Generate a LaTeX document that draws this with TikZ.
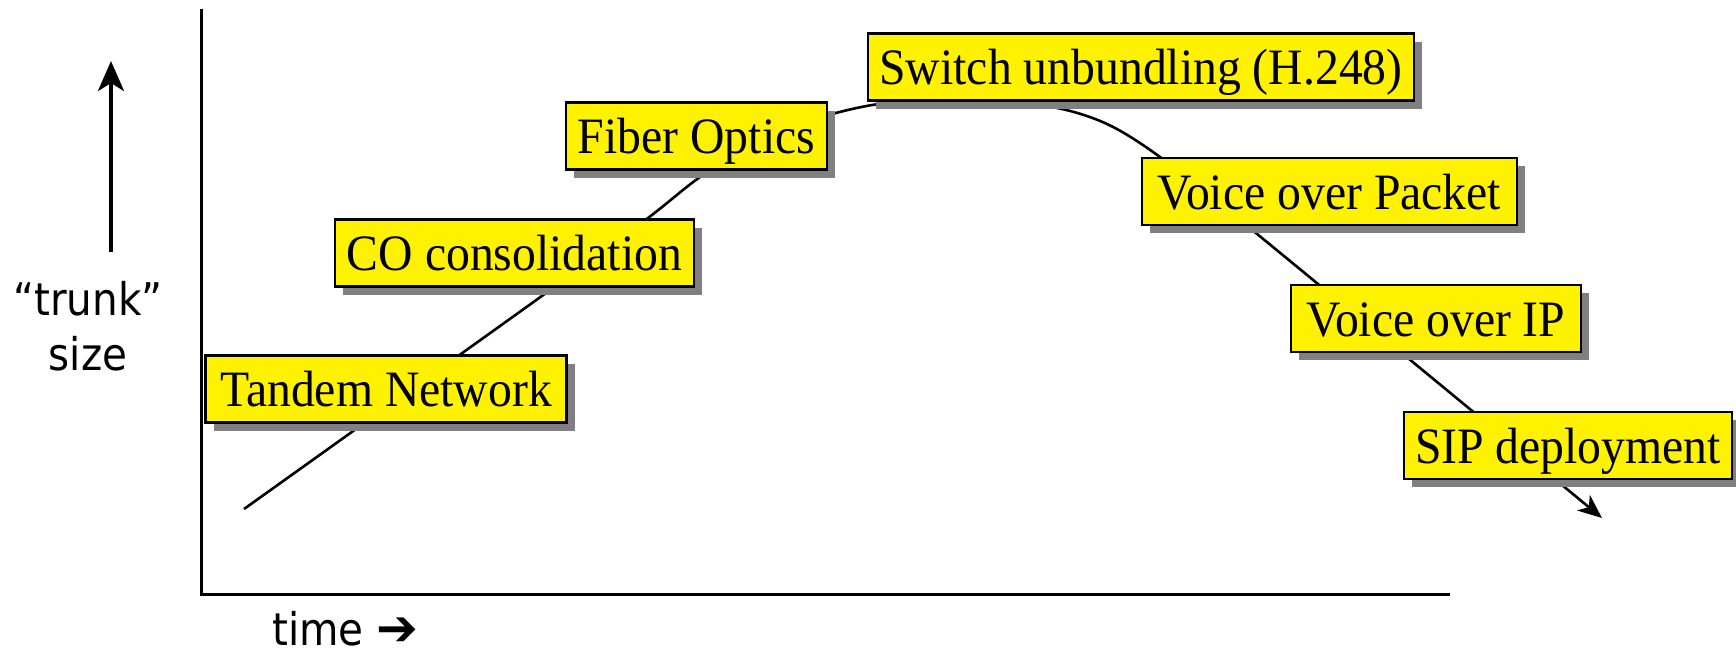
\documentclass[tikz,border=0pt]{standalone}
\usepackage{fontspec}
\setmainfont{Liberation Serif}
\newfontfamily\labfont[FakeStretch=0.9]{DejaVu Sans}
\newfontfamily\arrowfont{DejaVu Sans Bold}
\newfontfamily\boxfontfam[FakeStretch=0.935]{Liberation Serif}
\usetikzlibrary{arrows.meta,shadows}
\begin{document}
\begin{tikzpicture}[x=1pt,y=-1pt,
  milestone/.style={draw=black, line width=2.7pt, fill=yellow, inner xsep=0pt, inner ysep=0pt,
    minimum height=67pt, text height=51pt, text depth=16pt, align=center,
    font=\boxfontfam\fontsize{51}{60}\selectfont,
    drop shadow={shadow xshift=8pt, shadow yshift=-8pt, fill=black!50, opacity=1}},
  axis/.style={line width=3pt},
  curveline/.style={line width=2.6pt, -{Stealth[length=24pt,width=20pt,inset=7pt]}},
  lab/.style={font=\labfont\fontsize{45}{50}\selectfont, inner sep=0pt}
]
\useasboundingbox (0,0) rectangle (1736,656);
\clip (0,0) rectangle (1736,656);
\fill[white] (0,0) rectangle (1736,656);

% axes
\coordinate (origin) at (201,594);
\coordinate (ytop) at (201,9);
\coordinate (xend) at (1450,594);
\draw[axis] (ytop) -- (origin) -- (xend);

% trunk-size arrow and labels
\coordinate (upbot) at (111,252);
\coordinate (uptop) at (111,61);
\draw[line width=4.2pt, -{Stealth[length=30pt,width=26pt,inset=8pt]}] (upbot) -- (uptop);
\node[lab, anchor=base] (trunk) at (88,315) {“trunk”};
\node[lab, anchor=base] (size) at (88,370) {size};
\node[lab, anchor=base west] (time) at (272,645) {time {\arrowfont\fontsize{50}{50}\selectfont ➔}};

% curve
\draw[curveline] plot[smooth, tension=0.5] coordinates {
  (244,509) (546,293) (648,218) (703,175) (775,133) (832,114) (886,103)
  (963,99) (1052,107) (1107,124) (1160,157) (1251,229) (1602,518)};

% milestones
\node[milestone, minimum width=361pt] (tandem) at (386,389) {Tandem Network};
\node[milestone, minimum width=359pt] (co) at (514.5,253) {CO consolidation};
\node[milestone, minimum width=261pt] (fiber) at (696.5,136) {Fiber Optics};
\node[milestone, minimum width=546pt] (switch) at (1141,67) {Switch unbundling (H.248)};
\node[milestone, minimum width=375pt] (vopacket) at (1329.5,191.5) {Voice over Packet};
\node[milestone, minimum width=290pt] (voip) at (1436,318.5) {Voice over IP};
\node[milestone, minimum width=328pt] (sip) at (1568,445.5) {SIP deployment};
\end{tikzpicture}
\end{document}
